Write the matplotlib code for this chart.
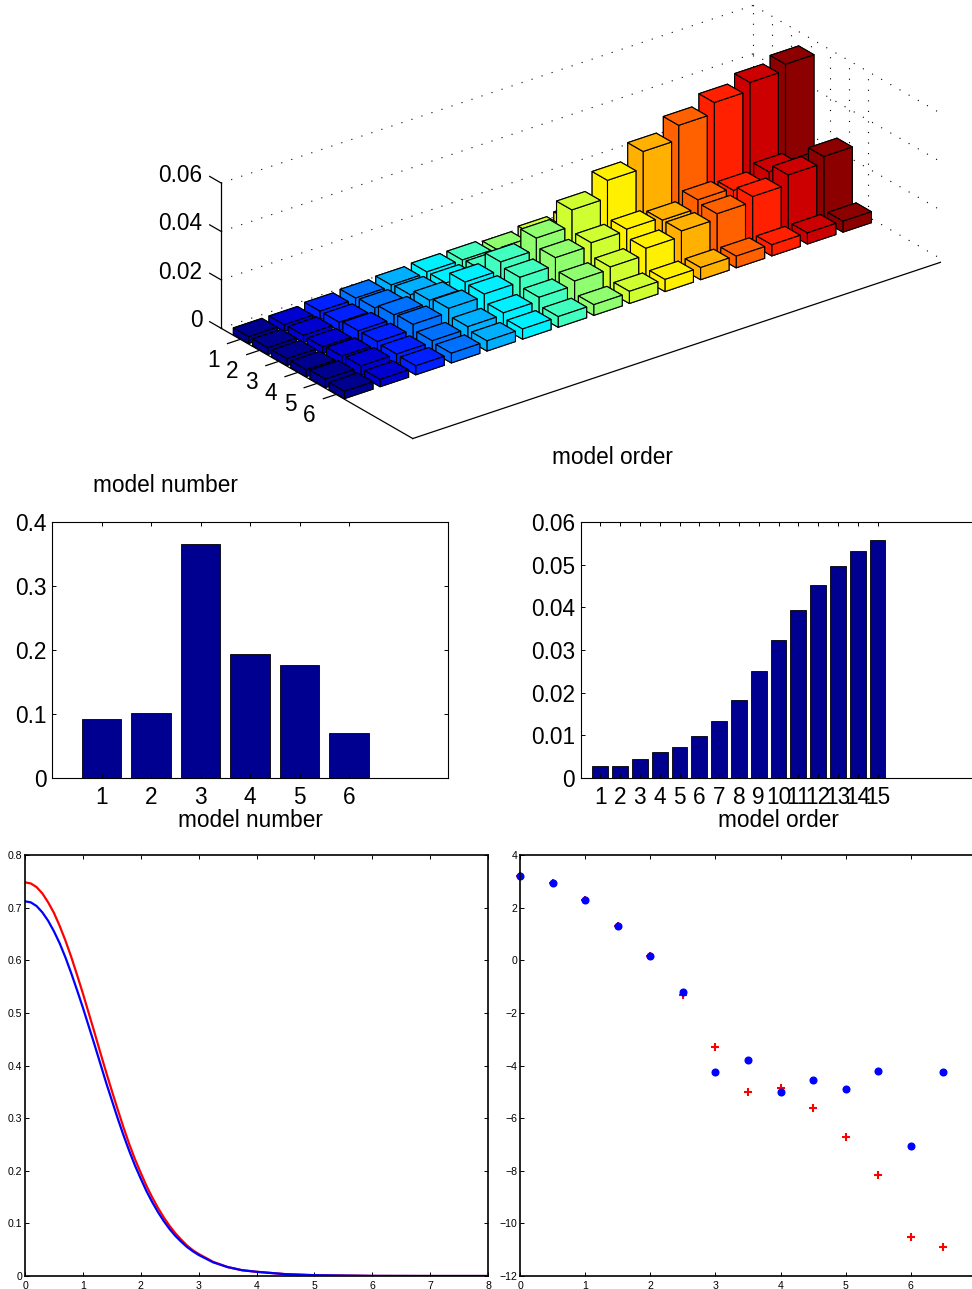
import numpy as np
import matplotlib
matplotlib.use("Agg")
import matplotlib.pyplot as plt
from mpl_toolkits.mplot3d import Axes3D

plt.rcParams['font.family'] = ['Liberation Sans', 'DejaVu Sans']

# posterior for each model (row) and order (column)
model_numbers = [1, 2, 3, 4, 5, 6]
model_orders = [1, 2, 3, 4, 5, 6, 7, 8, 9, 10, 11, 12, 13, 14, 15]
row_1 = [.0028, .0028, .0035, .004, .0045, .005, .005, .0042, .0055, .0065, .007, .0075, .008, .0085, .009]
row_2 = [.0028, .003, .0035, .0045, .005, .005, .0055, .0063, .006, .007, .0075, .0085, .0095, .0105, .0115]
row_3 = [.0028, .0028, .0045, .0062, .0073, .0099, .0133, .0183, .025, .0323, .0393, .0452, .0497, .0531, .0557]
row_4 = [.0028, .0035, .0046, .0068, .0085, .0095, .0115, .0147, .016, .0167, .0155, .019, .018, .0207, .017]
row_5 = [.0035, .004, .004, .0046, .0055, .0063, .0078, .0096, .0105, .0133, .0156, .0178, .02, .024, .0267]
row_6 = [.003, .003, .0037, .004, .0042, .0042, .0044, .0044, .005, .005, .005, .0048, .0046, .0046, .0045]
heights = [row_1, row_2, row_3, row_4, row_5, row_6]

order_colors = [(0, 0, .56), (0, 0, .81), (0, .125, 1), (0, .44, 1), (0, .69, 1), (0, .94, 1),
                (.25, 1, .75), (.56, 1, .44), (.81, 1, .19), (1, .94, 0), (1, .69, 0), (1, .38, 0),
                (1, .125, 0), (.8, 0, 0), (.55, 0, 0)]

model_marginal = [.092, .102, .365, .193, .177, .071]

curve_x = [0, .1, .2, .3, .4, .5, .6, .7, .8, .9, 1, 1.1, 1.2, 1.3, 1.4, 1.5, 1.6, 1.7, 1.8, 1.9, 2, 2.1, 2.2, 2.3,
           2.4, 2.5, 2.6, 2.7, 2.8, 2.9, 3, 3.25, 3.5, 3.75, 4, 4.5, 5, 6, 7, 8]
curve_blue = [.712, .71, .703, .691, .675, .655, .632, .605, .575, .543, .51, .475, .44, .404, .368, .334, .3, .268,
              .238, .21, .185, .161, .14, .121, .104, .089, .076, .065, .055, .047, .04, .026, .017, .011, .008,
              .0035, .0015, .0002, 0, 0]
curve_red = [.748, .746, .739, .727, .71, .69, .665, .637, .606, .572, .537, .5, .463, .425, .388, .352, .317, .283,
             .251, .222, .196, .171, .149, .129, .111, .095, .081, .069, .058, .049, .042, .027, .017, .011, .008,
             .0035, .0015, .0002, 0, 0]

scatter_x = [0, .5, 1, 1.5, 2, 2.5, 3, 3.5, 4, 4.5, 5, 5.5, 6, 6.5]
scatter_blue = [3.2, 2.95, 2.3, 1.3, .15, -1.2, -4.25, -3.8, -5, -4.55, -4.9, -4.2, -7.05, -4.25]
scatter_red = [3.2, 2.95, 2.3, 1.3, .15, -1.32, -3.3, -5, -4.85, -5.6, -6.7, -8.15, -10.5, -10.9]

W, H = 972, 1289
BIG = 16.3
SMALL = 7.6


def px_axes(fig, left, top, right, bottom, **kw):
    return fig.add_axes([left / W, 1 - bottom / H, (right - left) / W, (bottom - top) / H], **kw)


fig = plt.figure(figsize=(W / 100, H / 100), dpi=100)

# 3d bars
side = 735
ax3 = fig.add_axes([205.5 / W, 689.6 / H, side / W, side / H], projection='3d', proj_type='ortho')
ax3.computed_zorder = False
ax3.set_axis_off()
ax3.set_box_aspect((662, 313, 160))
ax3.view_init(elev=26, azim=232.7)

x0, x1 = .58, 15.52
y0, y1 = 0, 10
zmax = .06

order = 100
for m, row in zip(model_numbers, heights):
    for k in reversed(range(len(model_orders))):
        ax3.bar3d(model_orders[k] - .4, m - .4, 0, .8, .8, row[k], color=order_colors[k],
                  edgecolor='k', linewidth=.8, shade=False, zorder=order)
        order += 1

dots = dict(color='k', linestyle=(0, (1, 8.5)), linewidth=.8, zorder=1)
solid = dict(color='k', linewidth=.9, zorder=2)
for z in [0, .02, .04, .06]:
    ax3.plot([x0, x1], [y0, y0], [z, z], **dots)
    ax3.plot([x1, x1], [y0, y1], [z, z], **dots)
ax3.plot([x1, x1], [y0, y0], [0, zmax], **dots)
ax3.plot([x1, x1], [y1, y1], [0, zmax], **dots)
for m in model_numbers:
    ax3.plot([x0, x1], [m, m], [0, 0], **dots)
    ax3.plot([x1, x1], [m, m], [0, zmax], **dots)

ax3.plot([x0, x0], [y0, y0], [0, zmax], **solid)
ax3.plot([x0, x0], [y0, y1], [0, 0], **solid)
ax3.plot([x0, x1], [y1, y1], [0, 0], **solid)
for z, lab in zip([0, .02, .04, .06], ['0', '0.02', '0.04', '0.06']):
    ax3.plot([x0, x0], [y0, -.6], [z, z], **solid)
    ax3.text(x0 - .1, -.8, z, lab, ha='right', va='center', fontsize=BIG, zorder=3)
for m in model_numbers:
    ax3.plot([x0, x0 - .36], [m, m], [0, 0], **solid)
    ax3.text(x0 - 1.13, m + .69, 0, str(m), ha='center', va='center', fontsize=BIG, zorder=3)

ax3.set_xlim(x0, x1)
ax3.set_ylim(y1, y0)
ax3.set_zlim(0, zmax)

fig.text(612 / W, 1 - 458 / H, 'model order', ha='center', va='center', fontsize=BIG)
fig.text(165 / W, 1 - 486 / H, 'model number', ha='center', va='center', fontsize=BIG)

# marginal bars
ax1 = px_axes(fig, 52, 522, 448, 778)
ax1.bar(model_numbers, model_marginal, width=.8, color='#000090', edgecolor='k', linewidth=.6)
ax1.set_xlim(0, 8)
ax1.set_ylim(0, .4)
ax1.set_xticks(model_numbers)
ax1.set_yticks([0, .1, .2, .3, .4], ['0', '0.1', '0.2', '0.3', '0.4'])
ax1.set_xlabel('model number', fontsize=BIG, labelpad=0)

ax2 = px_axes(fig, 580.5, 522, 976.5, 778)
ax2.bar(model_orders, row_3, width=.8, color='#000090', edgecolor='k', linewidth=.6)
ax2.set_xlim(0, 20)
ax2.set_ylim(0, .06)
ax2.set_xticks(model_orders)
ax2.set_yticks([0, .01, .02, .03, .04, .05, .06], ['0', '0.01', '0.02', '0.03', '0.04', '0.05', '0.06'])
ax2.set_xlabel('model order', fontsize=BIG, labelpad=0)

for ax in (ax1, ax2):
    ax.tick_params(direction='in', top=True, right=True, length=2.7, width=.7, labelsize=BIG)
    ax.tick_params(axis='x', pad=6)
    ax.tick_params(axis='y', pad=4)
    for s in ax.spines.values():
        s.set_linewidth(.8)

# bottom panels
ax4 = px_axes(fig, 25, 855, 488, 1276)
ax4.plot(curve_x, curve_red, color='r', linewidth=1.6)
ax4.plot(curve_x, curve_blue, color='b', linewidth=1.6)
ax4.set_xlim(0, 8)
ax4.set_ylim(0, .8)
ax4.set_xticks(range(9))
ax4.set_yticks([0, .1, .2, .3, .4, .5, .6, .7, .8], ['0', '0.1', '0.2', '0.3', '0.4', '0.5', '0.6', '0.7', '0.8'])

ax5 = px_axes(fig, 520, 855, 976, 1276)
ax5.plot(scatter_x, scatter_red, '+', color='r', markersize=5.2, markeredgewidth=1.5, clip_on=False)
ax5.plot(scatter_x, scatter_blue, 'o', color='b', markersize=4.8, clip_on=False)
ax5.set_xlim(0, 7)
ax5.set_ylim(-12, 4)
ax5.set_xticks(range(8))
ax5.set_yticks(range(-12, 5, 2))

for ax in (ax4, ax5):
    ax.tick_params(direction='in', top=True, right=True, length=3.2, width=.7, labelsize=SMALL)
    ax.tick_params(axis='x', pad=3.5)
    ax.tick_params(axis='y', pad=2)
    for s in ax.spines.values():
        s.set_linewidth(1.2)

fig.savefig('out.png', dpi=100)
